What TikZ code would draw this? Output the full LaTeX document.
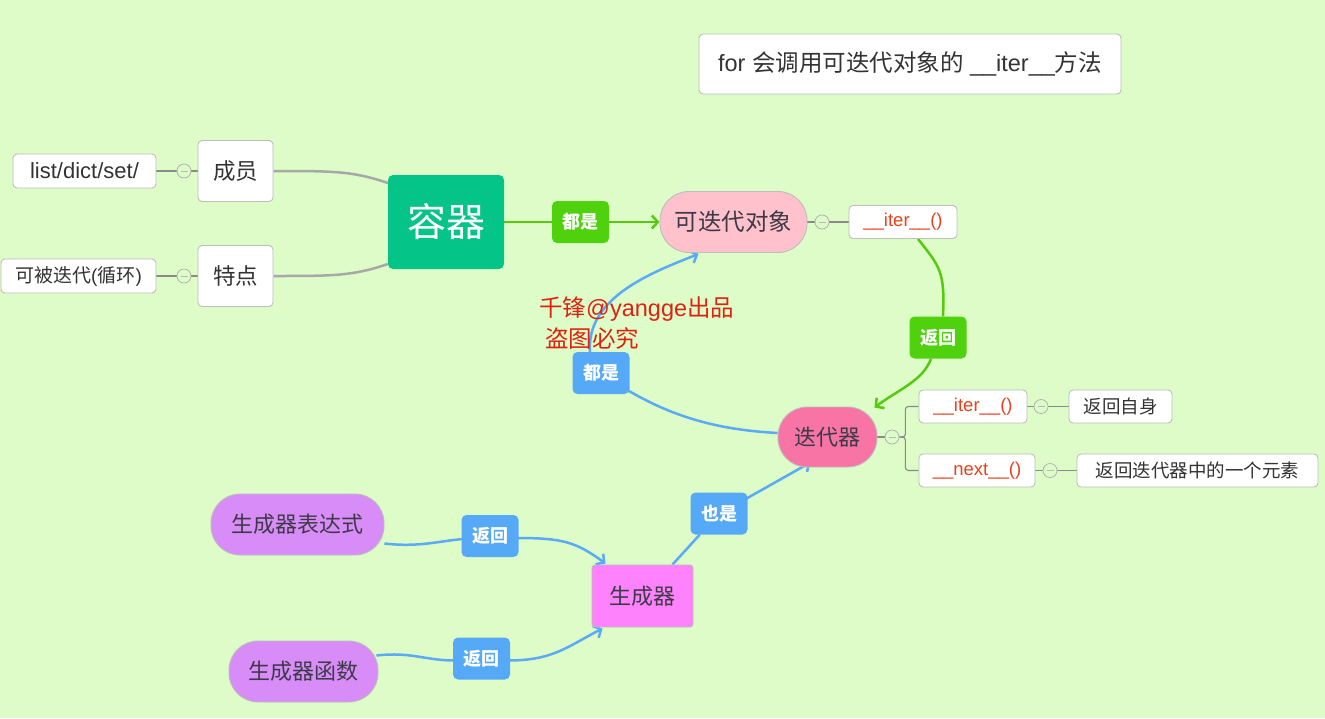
\documentclass[tikz,border=0pt]{standalone}
\usepackage{fontspec}
\setmainfont{Noto Sans CJK SC}
\newfontfamily\en{Liberation Sans}
\usetikzlibrary{arrows.meta,calc,backgrounds}

\definecolor{bg}{HTML}{DDFCC8}
\definecolor{ink}{HTML}{333333}
\definecolor{pillink}{HTML}{3D3A48}
\definecolor{boxline}{HTML}{BDBDBD}
\definecolor{codered}{HTML}{E8421C}
\definecolor{wmred}{HTML}{DD2211}
\definecolor{contgreen}{HTML}{05C487}
\definecolor{taggreen}{HTML}{4FD10E}
\definecolor{linegreen}{HTML}{55CA0F}
\definecolor{tagblue}{HTML}{56A9F6}
\definecolor{lineblue}{HTML}{5AAAF6}
\definecolor{linegray}{HTML}{A8A8A8}
\definecolor{thingray}{HTML}{8A8A8A}
\definecolor{pinkA}{HTML}{FFC1CC}
\definecolor{pinkB}{HTML}{F874A4}
\definecolor{violet}{HTML}{D88CF8}
\definecolor{magentaA}{HTML}{FF82FD}

\tikzset{
  fs/.style={font=\fontsize{#1}{#1}\selectfont},
  box/.style={draw=boxline, fill=white, rounded corners=4pt, line width=0.9pt,
    inner sep=0pt, text=ink, fs=18.5},
  bigbox/.style={box, fs=22.5},
  codebox/.style={box, text=codered, font=\en\fontsize{18.5}{18.5}\selectfont},
  pill/.style={draw=boxline, line width=0.9pt, rounded corners=29pt,
    inner sep=0pt, text=pillink, fs=22},
  tag/.style={rounded corners=5pt, inner sep=0pt, text=white,
    font=\fontsize{18}{18}\selectfont\bfseries,
    minimum width=57pt, minimum height=42pt},
  gtag/.style={tag, fill=taggreen},
  btag/.style={tag, fill=tagblue},
  fold/.style={circle, draw=thingray!70, fill=bg, line width=0.7pt,
    minimum size=14pt, inner sep=0pt,
    path picture={\draw[thingray!60, line width=0.8pt]
      ([xshift=-3.5pt]path picture bounding box.center) --
      ([xshift=3.5pt]path picture bounding box.center);}},
  thinlink/.style={draw=thingray, line width=1.1pt},
  graylink/.style={draw=linegray, line width=2.5pt},
  greenlink/.style={draw=linegreen, line width=2.5pt},
  bluelink/.style={draw=lineblue, line width=2.5pt},
  tip/.style={-{Straight Barb[length=6pt,width=13pt]}},
}

\begin{document}
\begin{tikzpicture}[x=1pt,y=-1pt]
\begin{pgfonlayer}{background}
  \fill[bg] (0,0) rectangle (1325,718);
\end{pgfonlayer}
\useasboundingbox (0,0) rectangle (1325,718);

% note box
\node[box, fs=23.5, minimum width=422pt, minimum height=60pt] (note) at (910,64)
  {{\en for }会调用可迭代对象的{\en\ \_\_iter\_\_}方法};

% container branch
\node[box, font=\en\fontsize{22}{22}\selectfont, minimum width=143pt, minimum height=34pt] (lst) at (84.5,171) {list/dict/set/};
\node[fold] (f1) at (184,171) {};
\node[bigbox, minimum width=75pt, minimum height=61pt] (mem) at (235.5,171) {成员};
\node[box, fs=19, minimum width=155pt, minimum height=34pt] (itm) at (78.5,276) {可被迭代{\en(}循环{\en)}};
\node[fold] (f2) at (184,276) {};
\node[bigbox, minimum width=75pt, minimum height=61pt] (feat) at (235.5,276) {特点};
\node[fill=contgreen, rounded corners=5pt, inner sep=0pt, text=white,
  fs=39, minimum width=116pt, minimum height=94pt] (cont) at (446,222) {容器};

% iterable
\node[gtag] (lab1) at (580.5,222) {都是};
\node[pill, fill=pinkA, fs=23.5, minimum width=147pt, minimum height=61pt] (itb) at (733.5,222) {可迭代对象};
\node[fold] (f3) at (822,222) {};
\node[codebox, minimum width=108pt, minimum height=33pt] (it1) at (903,222) {\_\_iter\_\_()};
\node[gtag] (lab2) at (938,337.5) {返回};

% iterator
\node[pill, fill=pinkB, minimum width=99pt, minimum height=60pt] (itr) at (827.5,437) {迭代器};
\node[fold] (f4) at (892,437) {};
\node[codebox, minimum width=108pt, minimum height=33pt] (it2) at (973,406.5) {\_\_iter\_\_()};
\node[fold] (f5) at (1041,406.5) {};
\node[box, minimum width=103pt, minimum height=33pt] (self) at (1120.5,406.5) {返回自身};
\node[codebox, minimum width=116pt, minimum height=33pt] (nx) at (977,470.5) {\_\_next\_\_()};
\node[fold] (f6) at (1050,470.5) {};
\node[box, minimum width=241pt, minimum height=33pt] (elem) at (1197.5,470.5) {返回迭代器中的一个元素};
\node[btag] (lab3) at (601,373) {都是};

% signature text
\node[anchor=west, inner sep=0pt, text=wmred, fs=23.5] (wm1) at (539,309) {千锋{\en @yangge}出品};
\node[anchor=west, inner sep=0pt, text=wmred, fs=23.5] (wm2) at (545,338) {盗图必究};

% generators
\node[pill, fill=violet, minimum width=173pt, minimum height=61pt] (gexp) at (297.5,524.5) {生成器表达式};
\node[pill, fill=violet, minimum width=149pt, minimum height=61pt] (gfun) at (303.5,671.5) {生成器函数};
\node[draw=boxline, line width=0.9pt, fill=magentaA, rounded corners=3pt, inner sep=0pt,
  text=pillink, fs=22, minimum width=101pt, minimum height=62pt] (gen) at (642.5,596) {生成器};
\node[btag] (lab4) at (490,536) {返回};
\node[btag] (lab5) at (481.5,658.5) {返回};
\node[btag] (lab6) at (719,513.5) {也是};

\begin{pgfonlayer}{background}
  % gray branches
  \draw[thinlink] (lst) -- (f1) -- (mem);
  \draw[thinlink] (itm) -- (f2) -- (feat);
  \draw[graylink] (mem.east) .. controls +(60,0) and +(-35,-12) .. ($(cont.west)+(0,-39)$);
  \draw[graylink] (feat.east) .. controls +(60,0) and +(-35,12) .. ($(cont.west)+(0,42)$);

  % container -> iterable
  \draw[greenlink] (cont.east) -- (lab1);
  \draw[greenlink, tip] (lab1) -- (itb.west);
  \draw[thinlink] (itb) -- (f3) -- (it1);

  % __iter__ returns iterator
  \draw[greenlink] ($(it1.south)+(15,0)$) .. controls +(22,28) and +(2,-45) .. ($(lab2.north)+(5,0)$);
  \draw[greenlink, tip] ($(lab2.south)+(-7,0)$) .. controls +(-8,22) and +(24,-18) .. ($(itr.north east)+(-3,1)$);

  % iterator children
  \draw[thinlink] (itr) -- (f4);
  \draw[thinlink, rounded corners=3pt] (f4.east) -- ++(6,0) |- (it2.west);
  \draw[thinlink, rounded corners=3pt] (f4.east) -- ++(6,0) |- (nx.west);
  \draw[thinlink] (it2) -- (f5) -- (self);
  \draw[thinlink] (nx) -- (f6) -- (elem);

  % iterator is iterable
  \draw[bluelink] ($(itr.west)+(0,-4)$) .. controls +(-55,-3) and +(50,30) .. ($(lab3.east)+(-4,16)$);
  \draw[bluelink, tip] ($(lab3.north)+(-11,0)$) .. controls +(-4,-55) and +(-45,18) .. ($(itb.south)+(-35,1)$);

  % generators
  \draw[bluelink] ($(gexp.east)+(0,19)$) .. controls +(35,4) and +(-25,2) .. ($(lab4.west)+(2,3)$);
  \draw[bluelink, tip] ($(lab4.east)+(-2,2)$) .. controls +(45,0) and +(-30,-22) .. ($(gen.north west)+(14,-1)$);
  \draw[bluelink] ($(gfun.east)+(-2,-16)$) .. controls +(35,-4) and +(-30,0) .. ($(lab5.west)+(2,2)$);
  \draw[bluelink, tip] ($(lab5.east)+(-2,2)$) .. controls +(45,0) and +(-35,18) .. ($(gen.south west)+(11,1)$);
  \draw[bluelink] ($(gen.north)+(30,0)$) -- (lab6);
  \draw[bluelink, tip] ($(lab6.east)+(-3,-14)$) .. controls +(25,-14) and +(-25,14) .. ($(itr.south west)+(33,-5)$);
\end{pgfonlayer}
\end{tikzpicture}
\end{document}
